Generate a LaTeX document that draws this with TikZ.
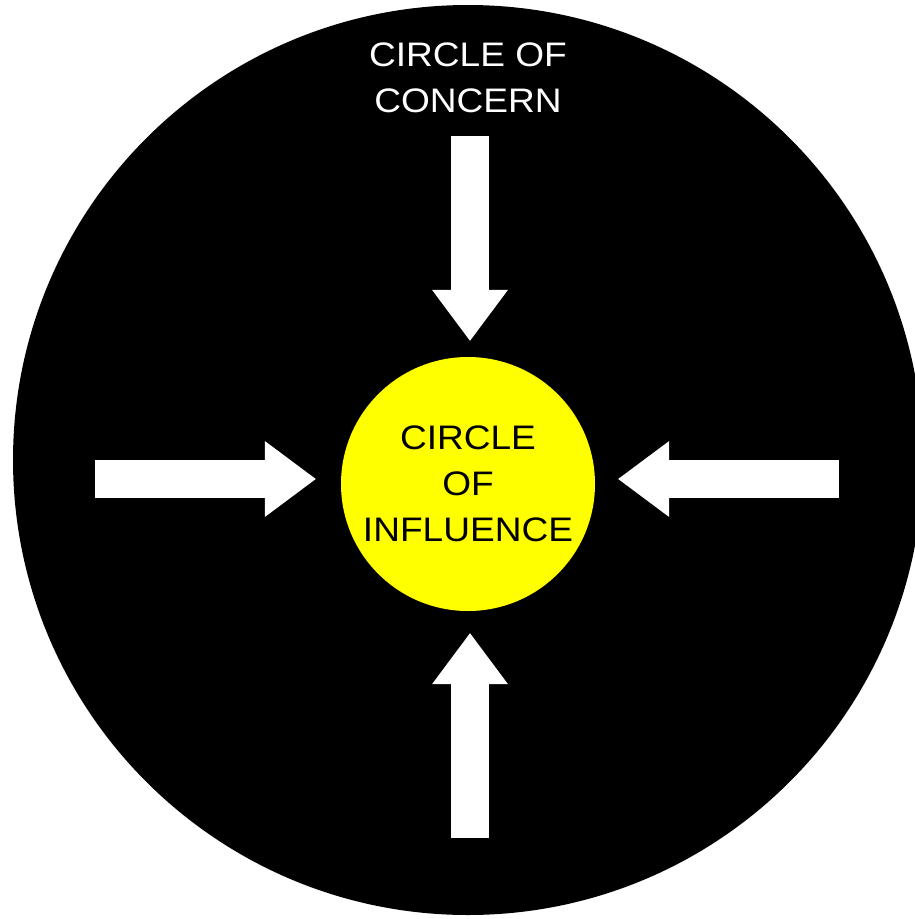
\documentclass[tikz,border=0pt]{standalone}
\usepackage{fontspec}
\setmainfont{Liberation Sans}
\newfontfamily\widesans[FakeStretch=1.09]{Liberation Sans}
\usetikzlibrary{arrows.meta,positioning,calc}
\definecolor{influenceyellow}{RGB}{255,255,0}

\begin{document}
\begin{tikzpicture}[x=1pt, y=-1pt, every node/.style={font=\widesans\fontsize{34}{46}\selectfont}, ring/.style={circle, inner sep=0pt, align=center}, bigarrow/.style={white, line width=38pt, -{Triangle[width=76pt,length=51pt,line width=0pt]}}]
\useasboundingbox (0,0) rectangle (914,919);
\fill[white] (0,0) rectangle (914,919);
\node[ring, fill=black, minimum size=910pt] (concern) at (468,460) {};
\node[align=center, inner sep=0pt, text=white] (title) at (468,78) {CIRCLE OF\\CONCERN};
\node[ring, fill=influenceyellow, minimum size=254pt] (influence) at (468,484) {CIRCLE\\OF\\INFLUENCE};
% tails of the four arrows
\coordinate (topTail) at (470,136);
\coordinate (leftTail) at (95,479);
\coordinate (rightTail) at (839,479);
\coordinate (bottomTail) at (470,838);
\draw[bigarrow, shorten >=16pt] (topTail) -- (topTail |- influence.north);
\draw[bigarrow, shorten >=25pt] (leftTail) -- (leftTail -| influence.west);
\draw[bigarrow, shorten >=23pt] (rightTail) -- (rightTail -| influence.east);
\draw[bigarrow, shorten >=22pt] (bottomTail) -- (bottomTail |- influence.south);
\end{tikzpicture}
\end{document}
